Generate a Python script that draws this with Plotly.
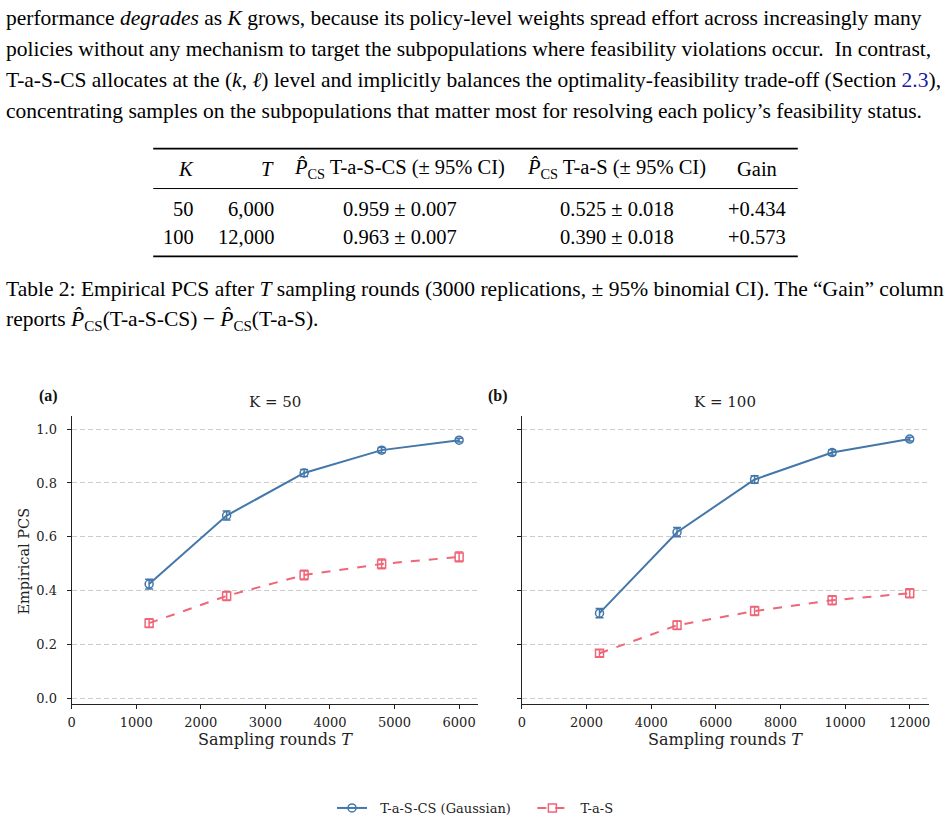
import plotly.graph_objects as go

W, H = 948, 823

# ---------------- data ----------------
T_k50 = [1200, 2400, 3600, 4800, 6000]
cs_k50 = [0.424, 0.679, 0.837, 0.922, 0.959]
cs_k50_ci = [0.018, 0.017, 0.013, 0.010, 0.007]
s_k50 = [0.279, 0.380, 0.458, 0.499, 0.525]
s_k50_ci = [0.016, 0.017, 0.018, 0.018, 0.018]

T_k100 = [2400, 4800, 7200, 9600, 12000]
cs_k100 = [0.316, 0.617, 0.813, 0.913, 0.963]
cs_k100_ci = [0.017, 0.017, 0.014, 0.010, 0.007]
s_k100 = [0.167, 0.271, 0.324, 0.364, 0.390]
s_k100_ci = [0.013, 0.016, 0.017, 0.017, 0.017]

y_ticks = [0.0, 0.2, 0.4, 0.6, 0.8, 1.0]
x_ticks_k50 = [0, 1000, 2000, 3000, 4000, 5000, 6000]
x_ticks_k100 = [0, 2000, 4000, 6000, 8000, 10000, 12000]

table_rows = [
    ["50", "6,000", "0.959 ± 0.007", "0.525 ± 0.018", "+0.434"],
    ["100", "12,000", "0.963 ± 0.007", "0.390 ± 0.018", "+0.573"],
]

BLUE = "#4477AA"
RED = "#EE6677"
SERIF = "Liberation Serif"
DSERIF = "DejaVu Serif"
NB = "\u00a0"


def px(x):
    return x / W


def py(y):
    return 1 - y / H


fig = go.Figure()


def add_series(x, y, err, color, symbol, dash, name, xa, ya, show):
    fig.add_trace(go.Scatter(
        x=x, y=y, mode="lines+markers", name=name,
        line=dict(color=color, width=2, dash=dash),
        marker=dict(symbol=symbol, size=8, color=color,
                    line=dict(color=color, width=1.5)),
        error_y=dict(type="data", array=err, visible=True, color=color,
                     thickness=1.5, width=4),
        xaxis=xa, yaxis=ya, showlegend=show, legendgroup=name,
    ))


name_cs = NB * 2 + "T-a-S-CS (Gaussian)" + NB * 4
name_s = NB * 2 + "T-a-S"
add_series(T_k50, cs_k50, cs_k50_ci, BLUE, "circle-open", "solid",
           name_cs, "x", "y", True)
add_series(T_k50, s_k50, s_k50_ci, RED, "square-open", "dash",
           name_s, "x", "y", True)
add_series(T_k100, cs_k100, cs_k100_ci, BLUE, "circle-open", "solid",
           name_cs, "x2", "y2", False)
add_series(T_k100, s_k100, s_k100_ci, RED, "square-open", "dash",
           name_s, "x2", "y2", False)

ydom = [py(705.3), py(416.7)]
axis_common = dict(
    showline=True, linecolor="#222", linewidth=1.2,
    ticks="outside", ticklen=4, tickcolor="#222", tickwidth=1,
    tickfont=dict(family=DSERIF, size=13, color="#222"),
    zeroline=False, mirror=False,
)

fig.update_layout(
    width=W, height=H,
    margin=dict(l=0, r=0, t=0, b=0),
    paper_bgcolor="white", plot_bgcolor="white",
    xaxis=dict(domain=[px(68), px(477)], range=[0, 6300],
               tickvals=x_ticks_k50, ticktext=[str(v) for v in x_ticks_k50],
               showgrid=False, anchor="y", ticklabelstandoff=3,
               **axis_common),
    yaxis=dict(domain=ydom, range=[-0.02, 1.05], tickvals=y_ticks,
               ticktext=[f"{v:.1f}" for v in y_ticks],
               showgrid=True, gridcolor="#cccccc", griddash="5px,3px",
               gridwidth=0.8, anchor="x", ticklabelstandoff=7,
               **axis_common),
    xaxis2=dict(domain=[px(520.7), px(930)], range=[0, 12600],
                tickvals=x_ticks_k100,
                ticktext=[str(v) for v in x_ticks_k100],
                showgrid=False, anchor="y2", ticklabelstandoff=3,
                **axis_common),
    yaxis2=dict(domain=ydom, range=[-0.02, 1.05], tickvals=y_ticks,
                showticklabels=False,
                showgrid=True, gridcolor="#cccccc", griddash="5px,3px",
                gridwidth=0.8, anchor="x2", **axis_common),
    legend=dict(orientation="h", x=0.5, xanchor="center",
                y=py(810), yanchor="middle",
                font=dict(family=DSERIF, size=13, color="#222"),
                bgcolor="rgba(0,0,0,0)", itemwidth=30),
)

ann = []


def text(x, y, s, size=21.5, family=SERIF, xanchor="left", color="#000",
         angle=0):
    ann.append(dict(x=px(x), y=py(y), xref="paper", yref="paper",
                    text=s, showarrow=False, xanchor=xanchor,
                    yanchor="middle", textangle=angle,
                    font=dict(family=family, size=size, color=color)))


# paragraph
para = [
    "performance <i>degrades</i> as <i>K</i> grows, because its policy-level weights spread effort across increasingly many",
    "policies without any mechanism to target the subpopulations where feasibility violations occur.  In contrast,",
    "T-a-S-CS allocates at the (<i>k</i>, <i>ℓ</i>) level and implicitly balances the optimality-feasibility trade-off (Section <span style='color:#1a1aa6'>2.3</span>),",
    "concentrating samples on the subpopulations that matter most for resolving each policy’s feasibility status.",
]
for i, line in enumerate(para):
    text(0.5, 18 + i * 31, line)

# table
TS = 20.5
PCS = "<i>P̂</i><sub>CS</sub>"
text(183, 169, "<i>K</i>", size=TS, xanchor="center")
text(273, 169, "<i>T</i>", size=TS, xanchor="right")
text(398, 169, PCS + " T-a-S-CS (± 95% CI)", size=TS, xanchor="center")
text(616, 169, PCS + " T-a-S (± 95% CI)", size=TS, xanchor="center")
text(757, 169, "Gain", size=TS, xanchor="center")
for r, yy in zip(table_rows, [210, 238]):
    text(193, yy, r[0], size=TS, xanchor="right")
    text(273, yy, r[1], size=TS, xanchor="right")
    text(398, yy, r[2], size=TS, xanchor="center")
    text(616, yy, r[3], size=TS, xanchor="center")
    text(757, yy, r[4], size=TS, xanchor="center")

# caption
text(0.5, 290, "Table 2: Empirical PCS after <i>T</i> sampling rounds (3000 replications, ± 95% binomial CI). The “Gain” column")
text(0.5, 321, "reports " + PCS + "(T-a-S-CS) − " + PCS + "(T-a-S).")

# subplot annotations
text(272.5, 403, "K = 50", size=15, family=DSERIF, xanchor="center", color="#222")
text(725, 403, "K = 100", size=15, family=DSERIF, xanchor="center", color="#222")
text(33, 397, "<b>(a)</b>", size=16, family=SERIF, color="#111")
text(485, 397, "<b>(b)</b>", size=16, family=SERIF, color="#111")
text(272.5, 741, "Sampling rounds <i>T</i>", size=16, family=DSERIF,
     xanchor="center", color="#222")
text(725, 741, "Sampling rounds <i>T</i>", size=16, family=DSERIF,
     xanchor="center", color="#222")
text(20, 562, "Empirical PCS", size=14.5, family=DSERIF, xanchor="center",
     color="#222", angle=-90)

fig.update_layout(annotations=ann)

# table rules
shapes = []
for yy, w in [(149, 1.8), (189, 1), (257, 1.8)]:
    shapes.append(dict(type="line", xref="paper", yref="paper",
                       x0=px(150), x1=px(798), y0=py(yy), y1=py(yy),
                       line=dict(color="#000", width=w)))
fig.update_layout(shapes=shapes)

fig.write_html("out.html")
